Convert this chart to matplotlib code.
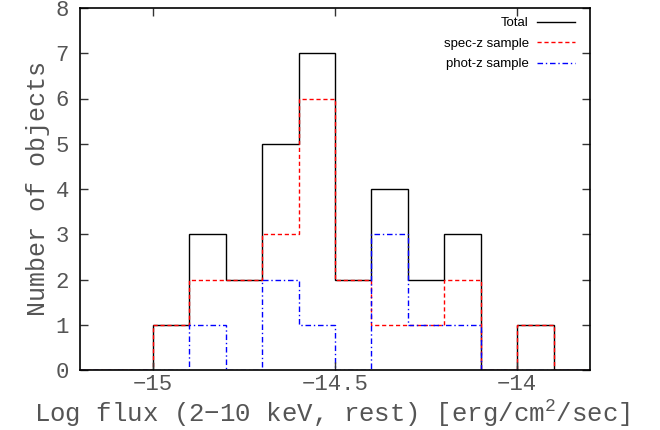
import numpy as np
import matplotlib
matplotlib.use("Agg")
import matplotlib.pyplot as plt

plt.rcParams["mathtext.fontset"] = "custom"
plt.rcParams["mathtext.rm"] = "Liberation Mono"

# bin edges (log flux) and counts per bin
edges = [-15.2, -15.1, -15.0, -14.9, -14.8, -14.7, -14.6, -14.5,
         -14.4, -14.3, -14.2, -14.1, -14.0, -13.9, -13.8]
total = [0, 0, 1, 3, 2, 5, 7, 2, 4, 2, 3, 0, 1, 0]
specz = [0, 0, 1, 2, 2, 3, 6, 2, 1, 1, 2, 0, 1, 0]
photz = [0, 0, 0, 1, 0, 2, 1, 0, 3, 1, 1, 0, 0, 0]

xticks = [-15, -14.5, -14]
xticklabels = ["\u221215", "\u221214.5", "\u221214"]

fig = plt.figure(figsize=(6.6, 4.3), dpi=100)
ax = fig.add_axes([80/660, 60/430, 510/660, 362/430])

ax.stairs(total, edges, color="black", lw=1.0, label="Total")
ax.stairs(specz, edges, color="red", lw=1.0, ls=(0, (3, 2)), label="spec-z sample")
ax.stairs(photz, edges, color="blue", lw=1.0, ls=(0, (4, 2, 1, 2)), label="phot-z sample")

ax.set_xlim(-15.2, -13.8)
ax.set_ylim(0, 8)
ax.set_xticks(xticks)
ax.set_xticklabels(xticklabels)
ax.set_yticks(range(0, 9))
ax.tick_params(direction="in", top=True, right=True, length=6, width=1,
               labelsize=16, colors="#333333", labelcolor="#555555")
ax.tick_params(axis="x", pad=3)
ax.tick_params(axis="y", pad=8)
for lab in ax.get_xticklabels() + ax.get_yticklabels():
    lab.set_family("Liberation Mono")
for s in ax.spines.values():
    s.set_linewidth(1.2)

ax.set_xlabel("Log flux (2\u221210 keV, rest) [erg/cm$^\\mathrm{2}$/sec]",
              family="Liberation Mono", fontsize=18.5, color="#555555",
              va="center")
ax.xaxis.set_label_coords(0.493, -0.12)
ax.set_ylabel("Number of objects", family="Liberation Mono", fontsize=18,
              labelpad=4, color="#555555")

leg = ax.legend(loc="upper right", frameon=False, markerfirst=False,
                prop={"family": "Liberation Sans", "size": 9.5},
                handlelength=2.9, handletextpad=0.6, borderaxespad=0.3,
                labelspacing=0.62, bbox_to_anchor=(0.989, 1.0))

fig.savefig("out.png", dpi=100)
